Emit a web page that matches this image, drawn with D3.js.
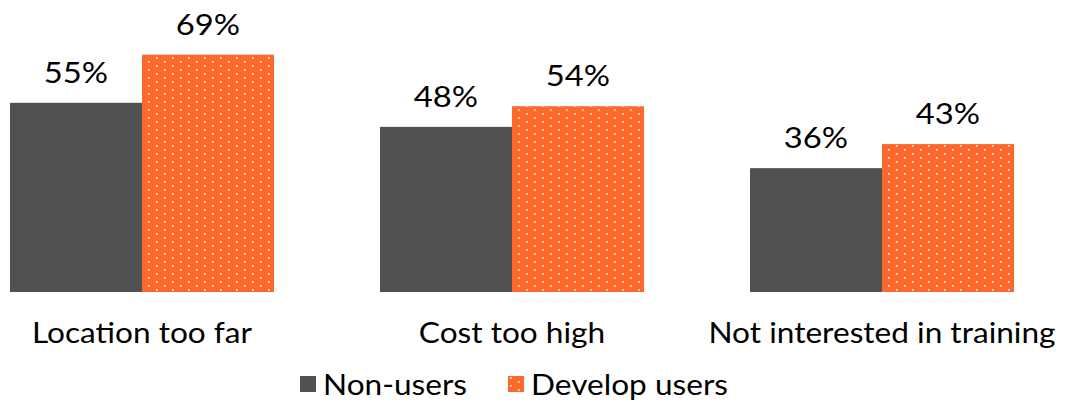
<!DOCTYPE html>
<html>
<head>
<meta charset="utf-8">
<script src="https://cdn.jsdelivr.net/npm/d3@7"></script>
<style>
  body { margin: 0; background: #fff; }
  text { font-family: Lato, "Open Sans", sans-serif; fill: #000; }
</style>
</head>
<body>
<div id="chart"></div>
<script>
var categories = ['Location too far', 'Cost too high', 'Not interested in training'];
var seriesNames = ['Non-users', 'Develop users'];
var nonUsers = [55, 48, 36];
var developUsers = [69, 54, 43];

var width = 1070, height = 402;
var greyColor = '#505153';
var orangeColor = '#FF682D';

var svg = d3.select('#chart').append('svg')
  .attr('width', width)
  .attr('height', height);

// dotted pattern for the orange bars
var defs = svg.append('defs');
var pat = defs.append('pattern')
  .attr('id', 'dots')
  .attr('patternUnits', 'userSpaceOnUse')
  .attr('width', 16)
  .attr('height', 8);
pat.append('rect').attr('width', 16).attr('height', 8).attr('fill', orangeColor);
pat.append('rect').attr('x', 2).attr('y', 1).attr('width', 1.6).attr('height', 1.6).attr('fill', '#fff');
pat.append('rect').attr('x', 10).attr('y', 5).attr('width', 1.6).attr('height', 1.6).attr('fill', '#fff');

var x0 = d3.scaleBand()
  .domain(categories)
  .range([10, 1014])
  .paddingInner(0.2865)
  .paddingOuter(0);

var x1 = d3.scaleBand()
  .domain(seriesNames)
  .range([0, x0.bandwidth()]);

var y = d3.scaleLinear()
  .domain([0, 100])
  .range([292, -52]);

var fills = [greyColor, 'url(#dots)'];

var rows = categories.map(function(c, i) {
  return { key: c, values: [nonUsers[i], developUsers[i]] };
});

var groups = svg.selectAll('.group')
  .data(rows)
  .enter().append('g')
  .attr('class', 'group')
  .attr('transform', function(d) { return 'translate(' + x0(d.key) + ',0)'; });

groups.selectAll('rect')
  .data(function(d) { return d.values.map(function(v, j) { return { s: seriesNames[j], v: v, j: j }; }); })
  .enter().append('rect')
  .attr('x', function(d) { return x1(d.s); })
  .attr('y', function(d) { return y(d.v); })
  .attr('width', x1.bandwidth())
  .attr('height', function(d) { return y(0) - y(d.v); })
  .attr('fill', function(d) { return fills[d.j]; });

// value labels (text in the original is a bit wider, so stretch it)
groups.selectAll('.label-num')
  .data(function(d) { return d.values.map(function(v, j) { return { s: seriesNames[j], v: v }; }); })
  .enter().append('text')
  .attr('class', 'label-num')
  .attr('text-anchor', 'middle')
  .attr('font-size', 29)
  .attr('transform', function(d) {
    return 'translate(' + (x1(d.s) + x1.bandwidth() / 2) + ',' + (y(d.v) - 20) + ') scale(1.13,1)';
  })
  .text(function(d) { return d.v + '%'; });

// category labels
svg.selectAll('.cat')
  .data(categories)
  .enter().append('text')
  .attr('class', 'cat')
  .attr('text-anchor', 'middle')
  .attr('font-size', 29)
  .attr('transform', function(d) {
    return 'translate(' + (x0(d) + x0.bandwidth() / 2) + ',343) scale(1.09,1)';
  })
  .text(function(d) { return d; });

// legend
var legendX = [300, 508];
var legend = svg.selectAll('.legend')
  .data(seriesNames)
  .enter().append('g')
  .attr('class', 'legend')
  .attr('transform', function(d, i) { return 'translate(' + legendX[i] + ',376)'; });

legend.append('rect')
  .attr('width', 16)
  .attr('height', 16)
  .attr('fill', function(d, i) { return fills[i]; });

legend.append('text')
  .attr('font-size', 29)
  .attr('transform', 'translate(23,19) scale(1.09,1)')
  .text(function(d) { return d; });
</script>
</body>
</html>
